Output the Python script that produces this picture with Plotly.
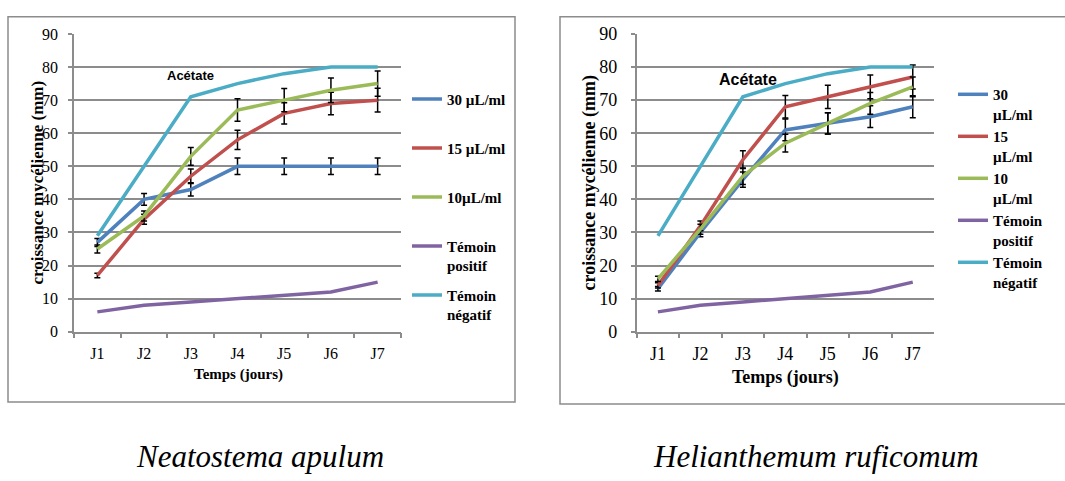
import plotly.graph_objects as go

W, H = 1065, 481

days = ["J1", "J2", "J3", "J4", "J5", "J6", "J7"]
names_left = ["<b>30 µL/ml</b><br>\u00a0", "<b>15 µL/ml</b><br>\u00a0",
              "<b>10µL/ml</b><br>\u00a0",
              "<b>Témoin</b><br><b>positif</b>", "<b>Témoin</b><br><b>négatif</b>"]
names_right = ["<b>30</b><br><b>µL/ml</b>", "<b>15</b><br><b>µL/ml</b>",
               "<b>10</b><br><b>µL/ml</b>",
               "<b>Témoin</b><br><b>positif</b>", "<b>Témoin</b><br><b>négatif</b>"]
colors = ["#4F81BD", "#C0504D", "#9BBB59", "#8064A2", "#4BACC6"]

# Neatostema apulum
na_30 = [27, 40, 43, 50, 50, 50, 50]
na_30_err = [1.2, 1.8, 2.0, 2.5, 2.5, 2.5, 2.5]
na_15 = [17, 34, 47, 58, 66, 69, 70]
na_15_err = [0.7, 1.5, 2.2, 2.9, 3.2, 3.4, 3.6]
na_10 = [25, 35, 53, 67, 70, 73, 75]
na_10_err = [1.2, 1.5, 2.7, 3.4, 3.5, 3.7, 3.8]
na_pos = [6, 8, 9, 10, 11, 12, 15]
na_neg = [29, 50, 71, 75, 78, 80, 80]

# Helianthemum ruficomum
hr_30 = [13, 30, 46, 61, 63, 65, 68]
hr_30_err = [0.7, 1.3, 2.3, 3.3, 3.2, 3.3, 3.3]
hr_15 = [14, 32, 52, 68, 71, 74, 77]
hr_15_err = [0.8, 1.5, 2.7, 3.4, 3.5, 3.6, 3.6]
hr_10 = [16, 31, 47, 57, 63, 69, 74]
hr_10_err = [0.8, 1.5, 2.5, 2.7, 3.2, 3.3, 3.0]
hr_pos = [6, 8, 9, 10, 11, 12, 15]
hr_neg = [29, 50, 71, 75, 78, 80, 80]

left_vals = [na_30, na_15, na_10, na_pos, na_neg]
left_errs = [na_30_err, na_15_err, na_10_err, None, None]
right_vals = [hr_30, hr_15, hr_10, hr_pos, hr_neg]
right_errs = [hr_30_err, hr_15_err, hr_10_err, None, None]


def px(x):
    return x / W


def py(y):
    return 1 - y / H


fig = go.Figure()

for i in range(5):
    err = left_errs[i]
    fig.add_trace(go.Scatter(
        x=days, y=left_vals[i], name=names_left[i], mode="lines",
        line=dict(color=colors[i], width=3.5),
        error_y=(dict(type="data", array=err, visible=True, color="black",
                      thickness=1.5, width=3) if err else None),
        xaxis="x", yaxis="y", legend="legend", legendgroup="L%d" % i,
        hoverinfo="skip"))

for i in range(5):
    err = right_errs[i]
    fig.add_trace(go.Scatter(
        x=days, y=right_vals[i], name=names_right[i], mode="lines",
        line=dict(color=colors[i], width=3.5),
        error_y=(dict(type="data", array=err, visible=True, color="black",
                      thickness=1.5, width=3) if err else None),
        xaxis="x2", yaxis="y2", legend="legend2", legendgroup="R%d" % i,
        hoverinfo="skip"))

GRAY = "#8c8c8c"
SERIF = "Liberation Serif"

ydom = [py(335.7), py(25)]


def xax(domain, anchor, size, standoff):
    return dict(domain=domain, anchor=anchor, type="category",
                range=[-0.5, 6.5], showline=True, linecolor=GRAY,
                linewidth=1.5, ticks="outside", tickson="boundaries",
                ticklen=5, tickcolor=GRAY, tickwidth=1.5, showgrid=False,
                ticklabelstandoff=standoff,
                tickfont=dict(family=SERIF, size=size, color="black"))


def yax(domain, anchor, size, standoff):
    return dict(domain=domain, anchor=anchor, range=[0, 90], dtick=10,
                showline=True, linecolor=GRAY, linewidth=1.5,
                ticks="outside", ticklen=4, tickcolor=GRAY, tickwidth=1.5,
                showgrid=True, gridcolor=GRAY, gridwidth=1.5, zeroline=False,
                ticklabelstandoff=standoff,
                tickfont=dict(family=SERIF, size=size, color="black"))


fig.update_layout(
    width=W, height=H,
    margin=dict(l=0, r=0, t=0, b=0),
    paper_bgcolor="white", plot_bgcolor="white",
    showlegend=True,
    xaxis=xax([px(74), px(401)], "y", 16, 6),
    yaxis=yax(ydom, "x", 16, 7),
    xaxis2=xax([px(636.7), px(934)], "y2", 18, 5),
    yaxis2=yax(ydom, "x2", 18, 10),
    legend=dict(x=px(407), y=py(76), xanchor="left", yanchor="top",
                font=dict(family=SERIF, size=15, color="black"),
                valign="top", tracegroupgap=7, traceorder="grouped",
                bgcolor="rgba(0,0,0,0)", borderwidth=0),
    legend2=dict(x=px(953), y=py(71), xanchor="left", yanchor="top",
                 font=dict(family=SERIF, size=15, color="black"),
                 valign="top", tracegroupgap=0, traceorder="grouped",
                 bgcolor="rgba(0,0,0,0)", borderwidth=0),
)

shapes = [
    dict(type="rect", xref="paper", yref="paper", x0=px(8), x1=px(515),
         y0=py(409), y1=py(7), line=dict(color=GRAY, width=1.5)),
    dict(type="rect", xref="paper", yref="paper", x0=px(560), x1=px(1068),
         y0=py(411), y1=py(7), line=dict(color=GRAY, width=1.5)),
]
fig.update_layout(shapes=shapes)

ann = []
ann.append(dict(text="<b>croissance mycélienne (mm)</b>", textangle=-90,
                xref="paper", yref="paper", x=px(38), y=py(180),
                xanchor="center", yanchor="middle", showarrow=False,
                font=dict(family=SERIF, size=17, color="black")))
ann.append(dict(text="<b>croissance mycélienne (mm)</b>", textangle=-90,
                xref="paper", yref="paper", x=px(590), y=py(180),
                xanchor="center", yanchor="middle", showarrow=False,
                font=dict(family=SERIF, size=18, color="black")))
ann.append(dict(text="<b>Temps (jours)</b>", xref="paper", yref="paper",
                x=px(238), y=py(380), xanchor="center", yanchor="middle",
                showarrow=False, font=dict(family=SERIF, size=15, color="black")))
ann.append(dict(text="<b>Temps (jours)</b>", xref="paper", yref="paper",
                x=px(785), y=py(383), xanchor="center", yanchor="middle",
                showarrow=False, font=dict(family=SERIF, size=18, color="black")))
ann.append(dict(text="<b>Acétate</b>", xref="x", yref="y", x=2.0, y=77.5,
                xanchor="center", yanchor="middle", showarrow=False,
                font=dict(family="Liberation Sans", size=13, color="black")))
ann.append(dict(text="<b>Acétate</b>", xref="x2", yref="y2", x=2.12, y=76.1,
                xanchor="center", yanchor="middle", showarrow=False,
                font=dict(family="Liberation Sans", size=16, color="black")))
ann.append(dict(text="<i>Neatostema apulum</i>", xref="paper", yref="paper",
                x=px(260), y=py(466), xanchor="center", yanchor="middle",
                showarrow=False, font=dict(family=SERIF, size=31, color="black")))
ann.append(dict(text="<i>Helianthemum ruficomum</i>", xref="paper", yref="paper",
                x=px(816), y=py(466), xanchor="center", yanchor="middle",
                showarrow=False, font=dict(family=SERIF, size=31, color="black")))
fig.update_layout(annotations=ann)

fig.write_html("out.html")
